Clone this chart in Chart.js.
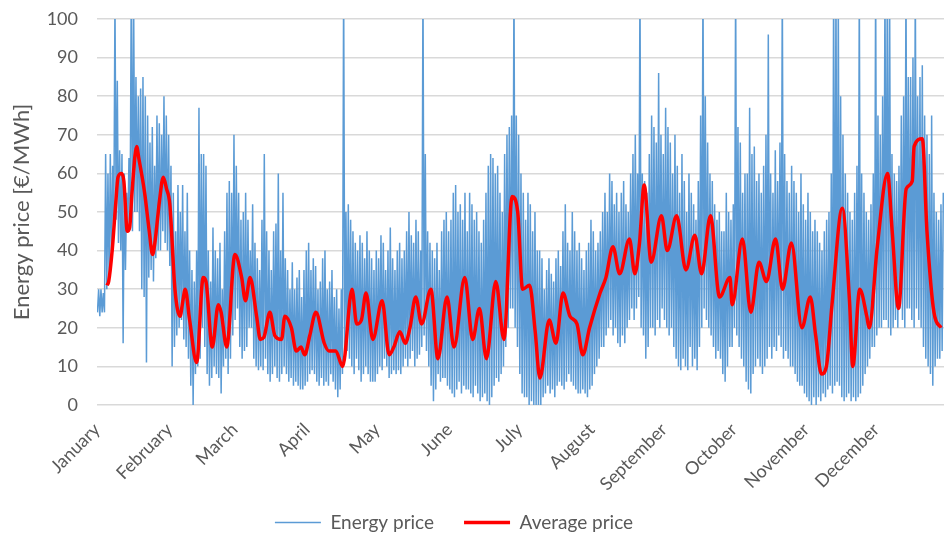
<!DOCTYPE html>
<html>
<head>
<meta charset="utf-8">
<script src="https://cdn.jsdelivr.net/npm/chart.js@4.4.1/dist/chart.umd.min.js"></script>
<style>
  html, body { margin: 0; padding: 0; background: #ffffff; overflow: hidden; }
  #wrap { width: 944px; height: 536px; }
</style>
</head>
<body>
<div id="wrap"><canvas id="c" width="944" height="536"></canvas></div>
<script>
// Month labels and their starting day of the year
const monthLabels = ['January','February','March','April','May','June','July','August','September','October','November','December'];
const monthStartDays = [0, 31, 59, 90, 120, 151, 181, 212, 243, 273, 304, 334];

// Hourly energy price, summarised per day as daily minimum and daily maximum (€/MWh)
const dailyLow = [
  24,23,24,24,30,33,38,45,48,42,
  40,16,35,45,50,45,50,50,45,30,
  28,11,33,35,32,38,40,40,45,42,
  40,36,10,15,18,20,22,17,15,12,
  5,0,8,10,12,20,15,8,5,7,
  10,8,7,3,10,12,8,12,18,22,
  25,15,12,14,15,20,20,12,10,9,
  10,9,12,8,6,8,10,7,6,
  8,10,8,6,7,5,6,5,4,4,
  5,6,8,9,8,6,5,7,5,6,
  5,8,6,4,2,4,8,15,14,12,
  10,8,12,9,6,8,10,8,6,6,
  6,8,10,9,12,10,7,8,9,8,
  9,8,10,12,10,12,14,10,12,13,
  15,18,14,10,5,1,4,8,6,7,
  7,5,4,3,2,4,6,3,5,4,
  4,3,2,5,3,1,2,3,1,0,
  2,5,7,6,8,10,15,20,25,25,
  20,15,8,3,2,2,0,1,0,0,
  0,0,2,3,5,3,4,2,5,6,
  5,4,6,8,6,5,4,3,3,4,
  3,2,4,5,8,10,12,15,15,18,
  20,22,18,20,16,15,18,16,20,22,
  25,22,25,28,20,18,12,15,20,
  20,18,22,20,25,22,20,18,20,15,
  12,10,9,12,10,9,15,10,12,9,
  15,20,25,22,20,18,15,12,14,12,
  8,6,10,15,15,20,18,15,12,10,
  6,4,3,8,10,12,10,8,10,12,
  15,12,15,14,18,15,12,14,12,10,
  10,8,6,5,5,3,2,1,0,2,
  0,2,1,3,2,4,5,3,5,6,
  5,2,1,2,3,1,2,1,2,3,
  5,8,10,12,15,15,18,20,20,22,
  22,20,18,20,22,20,25,22,20,25,
  25,22,20,25,22,20,15,12,10,8,
  5,10,12,12,14
];
const dailyHigh = [
  30,30,29,65,60,65,62,105,84,66,
  65,60,55,64,110,105,85,80,82,85,
  80,75,68,72,62,75,73,70,80,75,
  70,62,55,45,57,50,57,45,55,40,
  35,32,40,77,65,65,62,40,32,46,
  40,38,42,30,45,55,58,55,70,62,
  55,48,50,55,48,40,52,42,38,35,
  48,65,45,40,35,45,47,60,40,
  55,38,35,30,37,30,33,35,28,35,
  40,42,35,38,36,30,32,38,40,30,
  32,35,28,30,25,30,110,50,52,48,
  45,42,40,44,42,38,45,40,38,35,
  40,38,44,42,35,40,46,38,35,40,
  42,38,40,45,50,44,42,48,45,40,
  110,65,45,42,40,38,42,35,45,48,
  50,45,48,55,57,50,52,48,55,45,
  55,52,48,50,45,42,48,55,62,65,
  64,60,62,55,50,65,70,72,75,110,
  75,70,60,55,48,55,52,45,50,40,
  40,38,30,35,38,34,32,38,40,36,
  45,52,42,40,50,45,40,42,38,35,
  40,42,48,45,40,42,45,50,55,50,
  60,58,52,55,50,55,58,52,50,60,
  65,70,60,110,60,58,55,65,75,
  72,68,86,70,65,77,72,68,60,70,
  62,55,65,58,50,60,55,52,48,58,
  75,110,80,68,60,58,52,48,50,45,
  45,55,50,48,52,110,72,68,55,60,
  60,77,65,67,58,60,55,62,70,96,
  60,55,66,58,68,110,65,58,55,62,
  58,55,50,60,52,48,55,50,45,48,
  45,42,40,45,48,50,60,110,110,105,
  80,70,60,55,50,48,55,62,110,60,
  55,50,48,52,60,110,75,70,80,110,
  110,105,65,60,58,62,75,80,110,85,
  85,90,110,80,85,88,75,70,65,75,
  55,50,48,52,55
];

// Average price (moving average), read at its turning points: day of year and value (€/MWh)
const avgDays = [
  4.3,5,6.5,8,9,10.5,11.5,13,14,15,17,17.9,20.4,22.4,23.8,24.8,26.8,28.4,29.8,31.2,
  33.4,35.6,36.8,37.8,39.7,42.7,45.5,46.7,49.4,52,53.2,55.6,59.1,62,63.6,65.6,68.4,70,71.5,74.1,
  76.2,79.1,80.5,83.3,85.4,87.4,89,91.2,93.8,97.4,99.4,102.3,105.3,109.3,111.3,113.3,115.3,118.2,122.2,125.2,
  127.2,129.8,132.1,134.1,136.6,139.1,143.1,146.1,150,153,157.6,161,163.9,166.9,170.9,174.4,177.9,180.3,182.4,185.4,
  187.8,189.8,193.8,196.7,199.7,202.7,205.7,208.2,211.1,215.6,218.1,221.1,224,228.2,230.5,232.5,234.5,237.5,241.9,244.4,
  248.4,252.4,256.2,259.1,262.9,266.8,271.3,272.2,276.6,280.2,283.7,286.9,290.8,293.8,297.6,302.1,305.7,308,310.5,312.6,
  315,319.4,322.5,323.9,326.9,329.9,330.9,334.4,338.8,340.8,343.5,346.8,349.4,350.2,353.7,355.7,358.7,361.7
];
const avgValues = [
  31,32,40,52,59,60,58,45,46,55,67,64,55,45,39,42,53,59,56,52,
  30,23,27,30,22,11,33,32,15,26,24,15,39,33,27,33,23,17,17.5,24,
  18,17,23,20,14,15,13,18,24,16,14,14,10,30,21,22,29,17,27,13,
  15,19,16,20,28,21,30,12,28,15,33,17,25,12,32,17,54,50,30,31,
  19,7,22,16,29,23,21,13,20,29,33,41,34,43,34,42,57,37,49,40,
  49,35,44,34,49,28,33,26,43,24,37,32,43,30,42,20,28,18,8,10,
  26,51,27,10,30,23,20,41,60,45,25,56,58,67,69,45,24,20
];

const blueData = [];
dailyLow.forEach((lo, i) => {
  blueData.push({ x: i + 0.2, y: lo });
  blueData.push({ x: i + 0.7, y: dailyHigh[i] });
});
const redData = avgDays.map((d, i) => ({ x: d, y: avgValues[i] }));

const FONT = 'Lato, "Open Sans", "Liberation Sans", sans-serif';
const TXT = '#595959';

const layoutTweaks = {
  id: 'layoutTweaks',
  afterLayout(chart) {
    if (chart.legend) { chart.legend.right -= 36; }
    // let the rotated month labels extend below the axis box without being clipped
    if (chart.scales.x) { chart.scales.x.bottom = chart.height; }
  }
};

new Chart(document.getElementById('c'), {
  type: 'line',
  data: {
    datasets: [
      {
        label: 'Energy price',
        data: blueData,
        borderColor: '#5B9BD5',
        backgroundColor: '#5B9BD5',
        borderWidth: 1.5,
        pointRadius: 0,
        tension: 0,
        order: 2
      },
      {
        label: 'Average price',
        data: redData,
        borderColor: '#FF0000',
        backgroundColor: '#FF0000',
        borderWidth: 3.5,
        pointRadius: 0,
        cubicInterpolationMode: 'monotone',
        order: 1
      }
    ]
  },
  options: {
    responsive: false,
    animation: false,
    layout: { padding: { top: 19, left: 0, right: 0, bottom: -6 } },
    plugins: {
      legend: {
        position: 'bottom',
        labels: {
          usePointStyle: true,
          pointStyle: 'line',
          pointStyleWidth: 46,
          padding: 30,
          color: TXT,
          font: { family: FONT, size: 19, lineHeight: 1.0 },
          sort: (a, b) => a.datasetIndex - b.datasetIndex
        }
      },
      tooltip: { enabled: false }
    },
    scales: {
      x: {
        type: 'linear',
        min: 0,
        max: 363,
        grid: { display: false },
        border: { display: false },
        afterBuildTicks: (scale) => { scale.ticks = monthStartDays.map(v => ({ value: v })); },
        afterFit: (scale) => { scale.height = 78; },
        ticks: {
          autoSkip: false,
          minRotation: 45,
          maxRotation: 45,
          padding: 6,
          color: TXT,
          font: { family: FONT, size: 18 },
          callback: (value, index) => monthLabels[index]
        }
      },
      y: {
        min: 0,
        max: 100,
        afterFit: (scale) => { scale.width = 97; scale.paddingTop = 0; scale.paddingBottom = 0; },
        grid: { color: '#D9D9D9', lineWidth: 1.5, drawTicks: false },
        border: { display: false },
        ticks: {
          stepSize: 10,
          padding: 19,
          color: TXT,
          font: { family: FONT, size: 18 }
        },
        title: {
          display: true,
          text: 'Energy price [€/MWh]',
          color: TXT,
          padding: { top: 9, bottom: 0 },
          font: { family: FONT, size: 22 }
        }
      }
    }
  },
  plugins: [layoutTweaks]
});
</script>
</body>
</html>
